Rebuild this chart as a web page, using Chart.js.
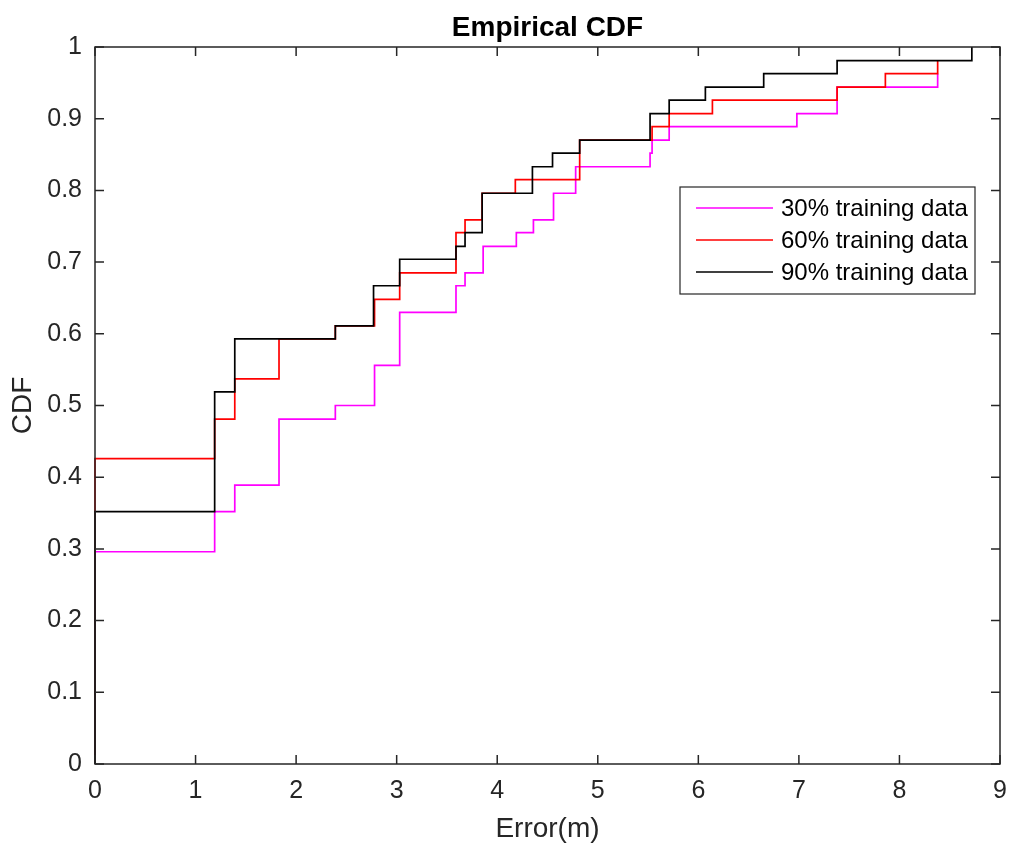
<!DOCTYPE html>
<html>
<head>
<meta charset="utf-8">
<title>Empirical CDF</title>
<script src="https://cdn.jsdelivr.net/npm/chart.js@4.4.0/dist/chart.umd.min.js"></script>
<style>
  html, body { margin: 0; padding: 0; background: #ffffff; }
  #wrap { width: 1024px; height: 859px; }
</style>
</head>
<body>
<div id="wrap"><canvas id="cdfChart" width="1024" height="859"></canvas></div>
<script>
// step points of each empirical CDF (x = error in m, y = CDF after the jump)
const seriesLabels = ['30% training data', '60% training data', '90% training data'];
const seriesColors = ['#FF00FF', '#FF0000', '#000000'];

const x30 = [0, 0, 1.19, 1.39, 1.83, 2.39, 2.78, 3.03, 3.59, 3.68, 3.86, 4.19, 4.36, 4.56, 4.78, 5.52, 5.54, 5.71, 6.98, 7.38, 8.38];
const y30 = [0, 0.296, 0.352, 0.389, 0.481, 0.5, 0.556, 0.630, 0.667, 0.685, 0.722, 0.741, 0.759, 0.796, 0.833, 0.852, 0.870, 0.889, 0.907, 0.944, 0.963];

const x60 = [0, 0, 1.19, 1.39, 1.83, 2.39, 2.78, 3.03, 3.59, 3.68, 3.85, 4.18, 4.82, 5.54, 5.71, 6.14, 7.38, 7.86, 8.38];
const y60 = [0, 0.426, 0.481, 0.537, 0.593, 0.611, 0.648, 0.685, 0.741, 0.759, 0.796, 0.815, 0.870, 0.889, 0.907, 0.926, 0.944, 0.963, 0.981];

const x90 = [0, 0, 1.19, 1.39, 2.39, 2.77, 3.03, 3.59, 3.68, 3.85, 4.35, 4.55, 4.82, 5.52, 5.71, 6.07, 6.65, 7.38, 8.72];
const y90 = [0, 0.352, 0.519, 0.593, 0.611, 0.667, 0.704, 0.722, 0.741, 0.796, 0.833, 0.852, 0.870, 0.907, 0.926, 0.944, 0.963, 0.981, 1.0];

const xTicks = [0, 1, 2, 3, 4, 5, 6, 7, 8, 9];
const yTicks = [0, 0.1, 0.2, 0.3, 0.4, 0.5, 0.6, 0.7, 0.8, 0.9, 1];

const FONT = "'Liberation Sans', Arial, Helvetica, sans-serif";

function toPoints(xs, ys) {
    return xs.map((v, i) => ({ x: v, y: ys[i] }));
}

// box, inward ticks, title and legend in MATLAB style
const matlabFrame = {
    id: 'matlabFrame',
    afterDatasetsDraw(chart) {
        const { ctx, chartArea: a, scales } = chart;
        const xs = scales.x, ys = scales.y;
        ctx.save();
        ctx.strokeStyle = '#262626';
        ctx.lineWidth = 1.5;
        ctx.strokeRect(a.left, a.top, a.right - a.left, a.bottom - a.top);

        const t = 9;
        ctx.beginPath();
        xTicks.forEach(v => {
            const px = xs.getPixelForValue(v);
            ctx.moveTo(px, a.bottom); ctx.lineTo(px, a.bottom - t);
            ctx.moveTo(px, a.top); ctx.lineTo(px, a.top + t);
        });
        yTicks.forEach(v => {
            const py = ys.getPixelForValue(v);
            ctx.moveTo(a.left, py); ctx.lineTo(a.left + t, py);
            ctx.moveTo(a.right, py); ctx.lineTo(a.right - t, py);
        });
        ctx.stroke();

        // title
        ctx.fillStyle = '#000000';
        ctx.font = 'bold 28px ' + FONT;
        ctx.textAlign = 'center';
        ctx.textBaseline = 'middle';
        ctx.fillText('Empirical CDF', (a.left + a.right) / 2, 28);

        // legend box
        const lx = 680, ly = 187, lw = 295, lh = 107;
        ctx.fillStyle = '#ffffff';
        ctx.fillRect(lx, ly, lw, lh);
        ctx.strokeStyle = '#262626';
        ctx.lineWidth = 1.2;
        ctx.strokeRect(lx, ly, lw, lh);
        ctx.font = '24px ' + FONT;
        ctx.textAlign = 'left';
        seriesLabels.forEach((lab, i) => {
            const rowY = ly + 21 + i * 32;
            ctx.strokeStyle = seriesColors[i];
            ctx.lineWidth = 1.6;
            ctx.beginPath();
            ctx.moveTo(696, rowY); ctx.lineTo(773, rowY);
            ctx.stroke();
            ctx.fillStyle = '#000000';
            ctx.fillText(lab, 781, rowY + 1);
        });
        ctx.restore();
    }
};

function initChart() {
    const ctx = document.getElementById('cdfChart');
    const allX = [x30, x60, x90];
    const allY = [y30, y60, y90];

    new Chart(ctx, {
        type: 'line',
        data: {
            datasets: seriesLabels.map((lab, i) => ({
                label: lab,
                data: toPoints(allX[i], allY[i]),
                borderColor: seriesColors[i],
                backgroundColor: seriesColors[i],
                borderWidth: 1.7,
                stepped: true,
                pointRadius: 0,
                fill: false,
                clip: 4,
                order: 3 - i
            }))
        },
        options: {
            responsive: false,
            animation: false,
            layout: { padding: { left: 0, right: 24, top: 47, bottom: 0 } },
            plugins: {
                legend: { display: false },
                title: { display: false },
                tooltip: { enabled: false }
            },
            scales: {
                x: {
                    type: 'linear',
                    min: 0,
                    max: 9,
                    grid: { display: false, drawTicks: false },
                    border: { display: false },
                    afterFit: s => { s.height = 95; },
                    ticks: {
                        stepSize: 1,
                        padding: 12,
                        color: '#262626',
                        font: { family: FONT, size: 25 }
                    },
                    title: {
                        display: true,
                        text: 'Error(m)',
                        color: '#262626',
                        font: { family: FONT, size: 28 },
                        padding: { top: 0, bottom: 13 }
                    }
                },
                y: {
                    type: 'linear',
                    min: 0,
                    max: 1,
                    grid: { display: false, drawTicks: false },
                    border: { display: false },
                    afterFit: s => { s.width = 95; },
                    ticks: {
                        stepSize: 0.1,
                        padding: 13,
                        color: '#262626',
                        font: { family: FONT, size: 25 },
                        callback: v => (v === 0 || v === 1) ? String(v) : v.toFixed(1)
                    },
                    title: {
                        display: true,
                        text: 'CDF',
                        color: '#262626',
                        font: { family: FONT, size: 28 },
                        padding: { top: 6, bottom: 0 }
                    }
                }
            }
        },
        plugins: [matlabFrame]
    });
}

window.addEventListener('load', initChart);
</script>
</body>
</html>
